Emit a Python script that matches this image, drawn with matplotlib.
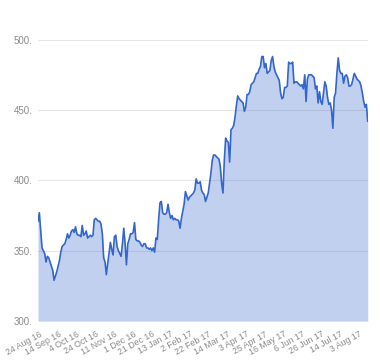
import matplotlib
matplotlib.use("Agg")
import matplotlib.pyplot as plt
import matplotlib.transforms as mtransforms
import numpy as np

values = [
    371, 377, 364, 352, 350, 348, 342, 346, 345, 342, 339,
    336, 329, 332, 335, 339, 343, 349, 353, 354, 355,
    358, 362, 359, 361, 364, 365, 363, 367, 362, 361, 361,
    360, 368, 361, 362, 364, 359, 360, 361, 360, 361,
    372, 373, 372, 371, 371, 369, 362, 345, 342, 333, 341,
    348, 356, 351, 347, 360, 361, 353, 350, 348, 346, 355,
    366, 355, 340, 355, 358, 362, 362, 363, 370, 358,
    357, 357, 356, 354, 353, 355, 355, 352, 352, 351, 352,
    350, 352, 349, 359, 358, 372, 384, 385, 377, 376, 376,
    377, 383, 377, 373, 375, 372, 373, 372, 372, 371,
    366, 373, 378, 383, 392, 389, 386, 388, 389, 390, 391,
    393, 401, 398, 398, 399, 393, 391, 390, 385, 388,
    391, 398, 405, 414, 418, 418, 417, 416, 415, 410, 398,
    391, 414, 430, 428, 427, 413, 436, 437, 439, 445, 453,
    460, 458, 457, 456, 455, 449, 452, 461, 461, 463,
    468, 469, 470, 473, 476, 476, 479, 481, 488, 488, 480,
    483, 476, 477, 478, 485, 488, 481, 477, 475, 473, 471,
    462, 458, 459, 466, 466, 467, 484, 483, 483, 484,
    469, 470, 470, 469, 468, 467, 468, 465, 475, 456, 472,
    475, 475, 475, 474, 473, 465, 467, 455, 463, 456,
    454, 462, 470, 467, 459, 454, 455, 450, 437, 459, 462,
    476, 487, 478, 476, 476, 469, 474, 475, 473, 467, 467,
    468, 472, 476, 474, 472, 471, 470, 467, 462, 456, 452,
    454, 442,
]

tick_labels = [
    "24 Aug 16", "14 Sep 16", "4 Oct 16", "24 Oct 16", "11 Nov 16",
    "1 Dec 16", "21 Dec 16", "13 Jan 17", "2 Feb 17", "22 Feb 17",
    "14 Mar 17", "3 Apr 17", "25 Apr 17", "16 May 17", "6 Jun 17",
    "26 Jun 17", "14 Jul 17", "3 Aug 17",
]
tick_step = 14

y_ticks = [300, 350, 400, 450, 500]
y_tick_labels = ["300.", "350.", "400.", "450.", "500."]

plt.rcParams["font.family"] = ["Liberation Sans", "DejaVu Sans"]

fig = plt.figure(figsize=(3.8, 3.6), dpi=100)
ax = fig.add_axes([0.1, 0.108, 0.8677, 0.782])

x = np.arange(len(values))
ax.set_xlim(0, len(values) - 1)
ax.set_ylim(300, 500)

for yt in y_ticks[1:]:
    ax.axhline(yt, color="#e6e6e6", lw=0.8, zorder=0)

ax.fill_between(x, 300, values, color="#3366cc", alpha=0.3, lw=0, zorder=1)
ax.plot(x, values, color="#3366cc", lw=1.2, zorder=2)

ax.set_yticks(y_ticks)
ax.set_yticklabels(y_tick_labels, fontsize=7, color="#8a8a8a")
ax.set_xticks(np.arange(0, len(tick_labels)) * tick_step)
ax.set_xticklabels(tick_labels, fontsize=6.3, color="#8a8a8a",
                   rotation=29, ha="right", va="top", rotation_mode="anchor")
ax.tick_params(axis="y", length=0, pad=4)
ax.tick_params(axis="x", length=0, pad=6)
offset = mtransforms.ScaledTranslation(1.5 / 100, 0, fig.dpi_scale_trans)
for lab in ax.get_xticklabels():
    lab.set_transform(lab.get_transform() + offset)
for s in ax.spines.values():
    s.set_visible(False)

fig.savefig("out.png", dpi=100)
